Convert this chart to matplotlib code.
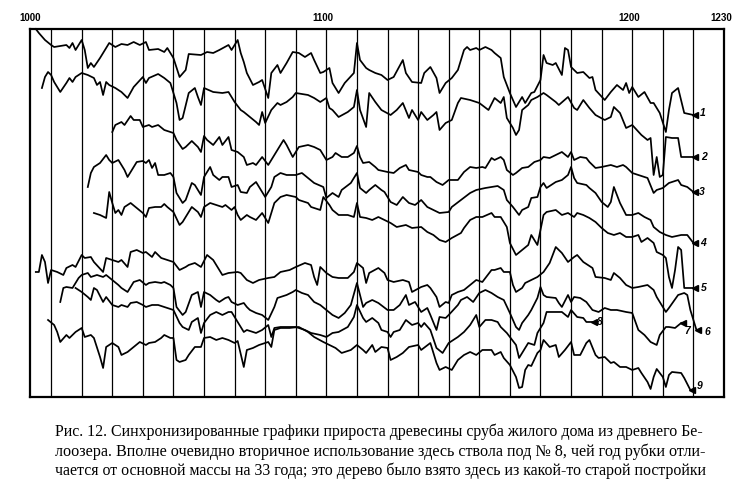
import matplotlib
matplotlib.use("Agg")
import matplotlib.pyplot as plt
from matplotlib.transforms import blended_transform_factory

# =========================
# DATA: synchronized tree-ring growth curves (stacked, arbitrary units)
# each series is a list of (year, value)
# =========================
series1 = [(1005, 368), (1006, 364), (1008, 357), (1010, 352), (1011, 350), (1013, 351), (1015, 352),
           (1016, 349), (1017, 354), (1018, 347), (1020, 357), (1021, 347), (1022, 329), (1023, 334),
           (1024, 330), (1026, 339), (1027, 344), (1029, 354), (1031, 350), (1033, 353), (1035, 352),
           (1037, 355), (1039, 352), (1041, 355), (1042, 347), (1045, 348), (1047, 345), (1048, 349),
           (1050, 339), (1052, 320), (1054, 327), (1055, 343), (1059, 342), (1061, 345), (1063, 344),
           (1065, 347), (1068, 352), (1069, 347), (1071, 357), (1072, 344), (1073, 335), (1074, 324),
           (1076, 312), (1078, 315), (1079, 317), (1081, 299), (1082, 324), (1084, 332), (1085, 324),
           (1087, 334), (1089, 345), (1091, 344), (1093, 340), (1095, 344), (1096, 337), (1098, 324),
           (1099, 325), (1101, 329), (1102, 314), (1104, 304), (1106, 314), (1109, 324), (1110, 354),
           (1111, 337), (1113, 329), (1114, 327), (1116, 324), (1118, 322), (1120, 317), (1122, 320),
           (1125, 337), (1126, 324), (1128, 315), (1131, 314), (1132, 324), (1134, 330), (1136, 319),
           (1137, 304), (1139, 314), (1141, 319), (1143, 327), (1145, 347), (1146, 350), (1147, 347),
           (1149, 349), (1150, 347), (1152, 350), (1154, 347), (1155, 344), (1157, 339), (1158, 320),
           (1160, 304), (1162, 290), (1164, 300), (1165, 294), (1167, 304), (1168, 305), (1170, 317),
           (1171, 342), (1172, 334), (1174, 332), (1175, 334), (1177, 322), (1178, 349), (1179, 347),
           (1180, 330), (1182, 324), (1184, 325), (1186, 319), (1187, 320), (1188, 307), (1191, 297),
           (1193, 305), (1195, 312), (1197, 307), (1198, 314), (1199, 304), (1200, 310), (1202, 300),
           (1204, 305), (1206, 294), (1207, 294), (1209, 284), (1211, 265), (1212, 287), (1213, 304),
           (1215, 309), (1217, 284), (1220, 282)]

series2 = [(1007, 309), (1008, 320), (1009, 325), (1010, 322), (1011, 315), (1013, 305), (1015, 314),
           (1016, 319), (1017, 315), (1018, 320), (1020, 324), (1022, 322), (1024, 319), (1025, 312),
           (1026, 315), (1027, 302), (1028, 315), (1029, 312), (1031, 309), (1033, 305), (1035, 299),
           (1037, 310), (1040, 320), (1041, 314), (1042, 319), (1045, 323), (1047, 319), (1049, 314),
           (1051, 294), (1052, 277), (1053, 279), (1055, 304), (1057, 309), (1058, 300), (1059, 292),
           (1060, 309), (1063, 305), (1066, 304), (1068, 305), (1070, 295), (1072, 287), (1073, 285),
           (1075, 280), (1077, 275), (1078, 272), (1079, 285), (1080, 274), (1082, 287), (1084, 294),
           (1085, 292), (1087, 295), (1089, 300), (1090, 304), (1094, 302), (1096, 299), (1098, 295),
           (1100, 299), (1101, 289), (1102, 287), (1104, 280), (1107, 285), (1109, 290), (1110, 307),
           (1111, 287), (1113, 270), (1114, 304), (1116, 295), (1118, 287), (1121, 282), (1123, 287),
           (1125, 294), (1127, 279), (1128, 287), (1130, 277), (1131, 285), (1133, 277), (1135, 282),
           (1136, 285), (1137, 267), (1139, 274), (1141, 277), (1143, 294), (1144, 299), (1147, 297),
           (1150, 294), (1153, 287), (1155, 299), (1157, 294), (1158, 300), (1159, 279), (1161, 269),
           (1162, 262), (1163, 267), (1164, 287), (1166, 292), (1167, 297), (1169, 300), (1171, 304),
           (1172, 302), (1175, 295), (1176, 292), (1179, 300), (1181, 289), (1182, 287), (1184, 297),
           (1186, 289), (1188, 282), (1191, 277), (1193, 280), (1194, 290), (1196, 284), (1198, 269),
           (1200, 272), (1203, 262), (1205, 257), (1206, 259), (1207, 222), (1208, 240), (1209, 220),
           (1210, 222), (1211, 260), (1213, 259), (1215, 259), (1216, 240), (1220, 240)]

series3 = [(1030, 265), (1031, 272), (1033, 275), (1034, 272), (1036, 281), (1037, 277), (1039, 277),
           (1040, 270), (1042, 272), (1043, 270), (1045, 272), (1047, 267), (1050, 264), (1051, 257),
           (1053, 248), (1054, 250), (1056, 256), (1058, 250), (1059, 245), (1060, 261), (1061, 257),
           (1063, 252), (1065, 260), (1066, 252), (1068, 260), (1069, 247), (1071, 245), (1073, 240),
           (1074, 232), (1076, 234), (1077, 232), (1079, 240), (1081, 232), (1083, 242), (1084, 247),
           (1086, 257), (1087, 252), (1089, 240), (1091, 250), (1094, 252), (1096, 250), (1098, 247),
           (1100, 237), (1102, 240), (1103, 244), (1105, 240), (1107, 240), (1109, 244), (1110, 251),
           (1111, 240), (1112, 234), (1114, 235), (1116, 230), (1117, 227), (1120, 225), (1122, 224),
           (1124, 229), (1126, 232), (1127, 227), (1130, 225), (1131, 222), (1133, 220), (1134, 220),
           (1136, 215), (1138, 212), (1140, 217), (1143, 217), (1145, 225), (1147, 230), (1149, 229),
           (1151, 230), (1152, 229), (1154, 239), (1155, 237), (1157, 240), (1158, 237), (1159, 227),
           (1161, 222), (1162, 224), (1164, 229), (1166, 230), (1168, 235), (1170, 237), (1171, 240),
           (1173, 239), (1175, 242), (1177, 245), (1179, 240), (1180, 245), (1181, 237), (1183, 240),
           (1185, 239), (1186, 235), (1188, 229), (1190, 230), (1193, 232), (1195, 230), (1197, 232),
           (1198, 230), (1200, 224), (1202, 222), (1205, 219), (1207, 204), (1208, 207), (1210, 209),
           (1212, 214), (1215, 217), (1216, 212), (1218, 210), (1220, 205)]

series4 = [(1022, 210), (1023, 224), (1024, 230), (1026, 234), (1028, 242), (1029, 237), (1030, 234),
           (1032, 237), (1034, 227), (1035, 220), (1037, 230), (1038, 235), (1040, 236), (1041, 234),
           (1042, 237), (1043, 229), (1044, 234), (1045, 222), (1047, 222), (1049, 224), (1050, 220),
           (1051, 204), (1053, 194), (1054, 197), (1056, 214), (1057, 212), (1059, 202), (1060, 220),
           (1062, 230), (1063, 222), (1065, 217), (1066, 220), (1068, 220), (1069, 210), (1071, 212),
           (1072, 205), (1074, 204), (1075, 210), (1077, 215), (1078, 210), (1080, 200), (1082, 210),
           (1083, 220), (1085, 224), (1087, 222), (1090, 222), (1092, 224), (1094, 219), (1096, 214),
           (1099, 210), (1100, 199), (1102, 204), (1104, 200), (1105, 207), (1108, 214), (1110, 224),
           (1111, 209), (1113, 204), (1114, 207), (1116, 212), (1118, 207), (1119, 205), (1121, 195),
           (1123, 192), (1125, 200), (1127, 194), (1129, 192), (1131, 197), (1133, 190), (1135, 187),
           (1137, 184), (1140, 185), (1141, 190), (1144, 197), (1147, 204), (1149, 207), (1152, 209),
           (1154, 210), (1156, 211), (1158, 207), (1159, 197), (1161, 190), (1163, 182), (1164, 187),
           (1166, 190), (1167, 199), (1169, 200), (1170, 210), (1171, 214), (1172, 209), (1175, 215),
           (1177, 217), (1179, 222), (1180, 230), (1181, 219), (1182, 214), (1185, 212), (1186, 209),
           (1188, 204), (1190, 195), (1192, 190), (1193, 195), (1194, 210), (1196, 194), (1198, 182),
           (1200, 182), (1202, 184), (1204, 180), (1206, 177), (1207, 170), (1209, 165), (1211, 162),
           (1213, 160), (1216, 162), (1218, 162), (1220, 154)]

series5 = [(1024, 184), (1026, 182), (1028, 179), (1029, 205), (1030, 194), (1031, 184), (1032, 187),
           (1033, 182), (1034, 190), (1036, 194), (1038, 189), (1040, 184), (1041, 180), (1042, 189),
           (1044, 190), (1046, 190), (1047, 193), (1048, 190), (1050, 185), (1052, 172), (1053, 175),
           (1055, 185), (1056, 190), (1058, 185), (1059, 180), (1060, 190), (1062, 194), (1064, 192),
           (1066, 190), (1067, 192), (1069, 187), (1070, 190), (1071, 182), (1072, 177), (1074, 182),
           (1075, 180), (1077, 177), (1079, 184), (1081, 174), (1083, 194), (1085, 200), (1087, 202),
           (1090, 200), (1091, 197), (1094, 194), (1095, 190), (1098, 187), (1099, 200), (1101, 192),
           (1102, 187), (1104, 182), (1107, 182), (1109, 180), (1110, 194), (1111, 180), (1113, 179),
           (1115, 177), (1117, 180), (1119, 177), (1121, 174), (1123, 170), (1126, 172), (1128, 169),
           (1131, 170), (1133, 165), (1135, 162), (1137, 157), (1139, 155), (1141, 159), (1144, 164),
           (1145, 169), (1147, 177), (1149, 180), (1151, 180), (1154, 184), (1155, 180), (1157, 180),
           (1159, 170), (1160, 154), (1162, 142), (1164, 147), (1166, 152), (1167, 162), (1169, 152),
           (1170, 167), (1171, 182), (1172, 185), (1175, 187), (1177, 182), (1179, 184), (1181, 180),
           (1182, 184), (1184, 182), (1186, 179), (1188, 175), (1190, 169), (1192, 164), (1194, 162),
           (1196, 164), (1198, 160), (1200, 160), (1202, 162), (1203, 155), (1205, 159), (1207, 154),
           (1208, 145), (1210, 142), (1211, 139), (1212, 120), (1213, 109), (1214, 127), (1215, 150),
           (1216, 147), (1217, 109), (1220, 109)]

series6 = [(1005, 125), (1006, 125), (1007, 142), (1008, 135), (1009, 114), (1010, 127), (1012, 125),
           (1014, 122), (1015, 129), (1017, 132), (1018, 130), (1020, 142), (1021, 139), (1023, 140),
           (1024, 135), (1027, 125), (1028, 139), (1030, 137), (1032, 135), (1033, 137), (1035, 130),
           (1036, 145), (1038, 147), (1040, 144), (1041, 145), (1043, 140), (1044, 145), (1046, 139),
           (1048, 137), (1050, 135), (1052, 127), (1054, 130), (1055, 132), (1057, 134), (1059, 130),
           (1061, 142), (1063, 137), (1065, 127), (1066, 122), (1068, 124), (1071, 125), (1072, 124),
           (1074, 117), (1076, 114), (1078, 117), (1081, 119), (1083, 120), (1085, 125), (1088, 127),
           (1090, 130), (1093, 134), (1095, 132), (1096, 120), (1097, 112), (1098, 130), (1100, 124),
           (1102, 120), (1104, 119), (1107, 119), (1109, 125), (1110, 134), (1112, 129), (1113, 114),
           (1114, 124), (1117, 129), (1119, 124), (1120, 117), (1122, 115), (1125, 117), (1127, 115),
           (1128, 105), (1131, 110), (1133, 112), (1134, 109), (1136, 100), (1137, 90), (1139, 95),
           (1140, 94), (1141, 102), (1143, 105), (1145, 107), (1147, 112), (1149, 117), (1151, 115),
           (1154, 127), (1155, 127), (1157, 129), (1158, 125), (1160, 125), (1161, 112), (1162, 105),
           (1164, 109), (1165, 114), (1167, 117), (1169, 120), (1171, 125), (1173, 134), (1175, 150),
           (1177, 144), (1179, 135), (1181, 140), (1182, 142), (1184, 135), (1187, 129), (1188, 120),
           (1191, 119), (1193, 117), (1194, 124), (1196, 119), (1198, 112), (1200, 109), (1202, 110),
           (1205, 112), (1207, 107), (1208, 100), (1211, 85), (1212, 89), (1215, 102), (1217, 104),
           (1218, 102), (1219, 87), (1221, 67)]

series7 = [(1013, 95), (1014, 109), (1015, 110), (1017, 109), (1019, 119), (1020, 122), (1022, 124),
           (1023, 120), (1025, 122), (1027, 120), (1028, 122), (1030, 117), (1032, 112), (1033, 109),
           (1035, 105), (1036, 110), (1037, 115), (1039, 117), (1041, 112), (1042, 114), (1044, 115),
           (1046, 114), (1047, 115), (1049, 112), (1050, 109), (1051, 90), (1053, 82), (1054, 85),
           (1056, 102), (1058, 105), (1059, 90), (1060, 105), (1062, 102), (1064, 97), (1065, 95),
           (1067, 99), (1068, 100), (1069, 95), (1071, 92), (1073, 94), (1074, 90), (1075, 87),
           (1077, 84), (1079, 82), (1081, 77), (1083, 90), (1084, 99), (1087, 102), (1089, 105),
           (1090, 107), (1092, 104), (1094, 102), (1096, 95), (1098, 92), (1100, 87), (1102, 82),
           (1104, 79), (1106, 84), (1108, 92), (1110, 114), (1112, 90), (1113, 94), (1115, 97),
           (1117, 94), (1120, 87), (1122, 87), (1124, 92), (1126, 102), (1127, 92), (1129, 95),
           (1131, 85), (1133, 89), (1134, 82), (1136, 67), (1137, 80), (1139, 79), (1140, 82),
           (1143, 92), (1144, 97), (1146, 100), (1148, 95), (1150, 104), (1152, 107), (1154, 104),
           (1156, 100), (1158, 97), (1160, 84), (1162, 70), (1163, 67), (1164, 74), (1166, 82),
           (1167, 87), (1169, 99), (1170, 110), (1171, 102), (1172, 100), (1175, 99), (1176, 94),
           (1177, 90), (1179, 102), (1180, 95), (1181, 100), (1183, 99), (1185, 95), (1187, 87),
           (1189, 85), (1191, 89), (1193, 87), (1195, 87), (1198, 85), (1200, 84), (1202, 67),
           (1204, 62), (1206, 55), (1208, 52), (1209, 62), (1211, 70), (1212, 70), (1214, 69),
           (1216, 74)]

series8 = [(1018, 109), (1020, 105), (1022, 100), (1023, 97), (1024, 109), (1025, 107), (1027, 95),
           (1028, 100), (1030, 92), (1032, 90), (1033, 92), (1035, 90), (1036, 94), (1038, 95),
           (1040, 92), (1041, 90), (1043, 92), (1045, 92), (1047, 90), (1048, 89), (1050, 87),
           (1052, 74), (1053, 70), (1055, 67), (1056, 75), (1058, 79), (1059, 64), (1060, 74),
           (1062, 82), (1064, 85), (1066, 82), (1068, 85), (1069, 85), (1071, 75), (1073, 65),
           (1074, 67), (1077, 64), (1079, 67), (1081, 72), (1082, 60), (1083, 69), (1085, 70),
           (1087, 70), (1090, 70), (1093, 67), (1095, 64), (1098, 62), (1100, 60), (1102, 64),
           (1104, 65), (1107, 70), (1109, 80), (1110, 92), (1112, 79), (1113, 75), (1115, 79),
           (1117, 74), (1118, 67), (1120, 65), (1121, 60), (1122, 65), (1124, 67), (1126, 77),
           (1128, 72), (1130, 74), (1131, 70), (1132, 74), (1134, 67), (1136, 49), (1138, 44),
           (1140, 54), (1143, 60), (1145, 65), (1147, 72), (1149, 82), (1150, 70), (1152, 77),
           (1154, 77), (1156, 75), (1157, 70), (1159, 64), (1162, 52), (1163, 39), (1164, 44),
           (1166, 54), (1168, 52), (1169, 64), (1171, 74), (1172, 85), (1175, 85), (1177, 85),
           (1179, 80), (1180, 87), (1182, 80), (1184, 79), (1185, 75), (1187, 75)]

series9 = [(1009, 77), (1011, 72), (1012, 65), (1013, 55), (1015, 62), (1016, 59), (1018, 65),
           (1020, 69), (1021, 60), (1023, 62), (1024, 59), (1026, 40), (1027, 29), (1028, 50),
           (1030, 54), (1032, 50), (1033, 42), (1035, 45), (1037, 50), (1039, 55), (1041, 52),
           (1042, 54), (1044, 55), (1046, 59), (1047, 62), (1049, 59), (1050, 59), (1051, 37),
           (1052, 35), (1054, 37), (1055, 42), (1057, 50), (1059, 50), (1060, 59), (1062, 60),
           (1064, 57), (1066, 59), (1068, 57), (1070, 54), (1071, 56), (1073, 30), (1074, 47),
           (1076, 49), (1078, 52), (1081, 55), (1082, 50), (1083, 67), (1085, 69), (1088, 69),
           (1091, 70), (1094, 65), (1096, 60), (1099, 55), (1101, 52), (1103, 49), (1105, 44),
           (1108, 47), (1110, 52), (1112, 47), (1113, 44), (1115, 52), (1116, 45), (1118, 50),
           (1120, 49), (1121, 37), (1123, 40), (1125, 44), (1127, 50), (1130, 52), (1131, 47),
           (1134, 54), (1136, 34), (1137, 27), (1139, 30), (1141, 27), (1143, 37), (1145, 42),
           (1147, 45), (1149, 42), (1151, 47), (1154, 47), (1155, 42), (1157, 45), (1158, 39),
           (1160, 32), (1162, 20), (1163, 9), (1164, 10), (1165, 27), (1166, 32), (1167, 31),
           (1169, 44), (1170, 47), (1171, 57), (1173, 50), (1175, 52), (1176, 40), (1178, 47),
           (1180, 55), (1181, 42), (1183, 42), (1185, 54), (1186, 57), (1188, 42), (1189, 39),
           (1191, 40), (1193, 34), (1194, 35), (1196, 30), (1198, 30), (1200, 27), (1202, 29),
           (1203, 24), (1205, 15), (1206, 8), (1207, 20), (1208, 28), (1210, 20), (1211, 10),
           (1212, 22), (1213, 25), (1216, 24), (1217, 19), (1219, 7)]

series_names = ["1", "2", "3", "4", "5", "6", "7", "8", "9"]

grid_years = list(range(1010, 1230, 10))
top_label_years = [1100, 1200, 1230]
top_labels = ["1100", "1200", "1230"]
first_label = "1000"

caption_lines = [
    "Рис. 12. Синхронизированные графики прироста древесины сруба жилого дома из древнего Бе-",
    "лоозера. Вполне очевидно вторичное использование здесь ствола под № 8, чей год рубки отли-",
    "чается от основной массы на 33 года; это дерево было взято здесь из какой-то старой постройки",
]

# =========================
# FIGURE
# =========================
fig = plt.figure(figsize=(7.46, 4.94), dpi=100)
ax = fig.add_axes([0.0402, 0.1964, 0.9303, 0.7449])
ax.set_xlim(1003.1, 1230)
ax.set_ylim(0, 368)

ax.vlines(grid_years, 0, 368, color="black", lw=0.9)

all_series = [series1, series2, series3, series4, series5,
              series6, series7, series8, series9]

# label offsets in pixels from the end of each curve
label_offsets = [(9, 2), (11, 0), (8, 0), (10, 0), (10, 0), (11, -2), (6, -8), (7, 0), (9, 4)]

for data, name, (dx, dy) in zip(all_series, series_names, label_offsets):
    years, vals = zip(*data)
    ax.plot(years, vals, color="black", lw=1.25, clip_on=False)
    ax.plot(years[-1] + 0.6, vals[-1], marker="<", color="black", ms=4.5, clip_on=False)
    ax.annotate(name, (years[-1], vals[-1]), xytext=(dx, dy), textcoords="offset pixels",
                ha="center", va="center", fontsize=7.5, fontweight="bold",
                fontstyle="italic", family="Liberation Sans")

ax.set_xticks([])
ax.set_yticks([])
for side, sp in ax.spines.items():
    sp.set_linewidth(1.6)
    sp.set_color("black")

# year labels above the frame
trans = blended_transform_factory(ax.transData, ax.transAxes)
ax.text(0.0, 1.03, first_label, transform=ax.transAxes, ha="center", va="center",
        fontsize=7, fontweight="bold", family="Liberation Sans")
for yr, lab in zip(top_label_years, top_labels):
    ax.text(yr - 1, 1.03, lab, transform=trans, ha="center", va="center",
            fontsize=7, fontweight="bold", family="Liberation Sans")

# =========================
# CAPTION (justified to the same width)
# =========================
fig.canvas.draw()
renderer = fig.canvas.get_renderer()
caption_y = [1 - 432 / 494, 1 - 452 / 494, 1 - 471 / 494]
target_w = 652
for line, y in zip(caption_lines, caption_y):
    t = fig.text(55 / 746, y, line, family="Liberation Serif", fontsize=11,
                 ha="left", va="center")
    w = t.get_window_extent(renderer).width
    t.set_fontsize(11 * target_w / w)

fig.savefig("out.png", dpi=100)
